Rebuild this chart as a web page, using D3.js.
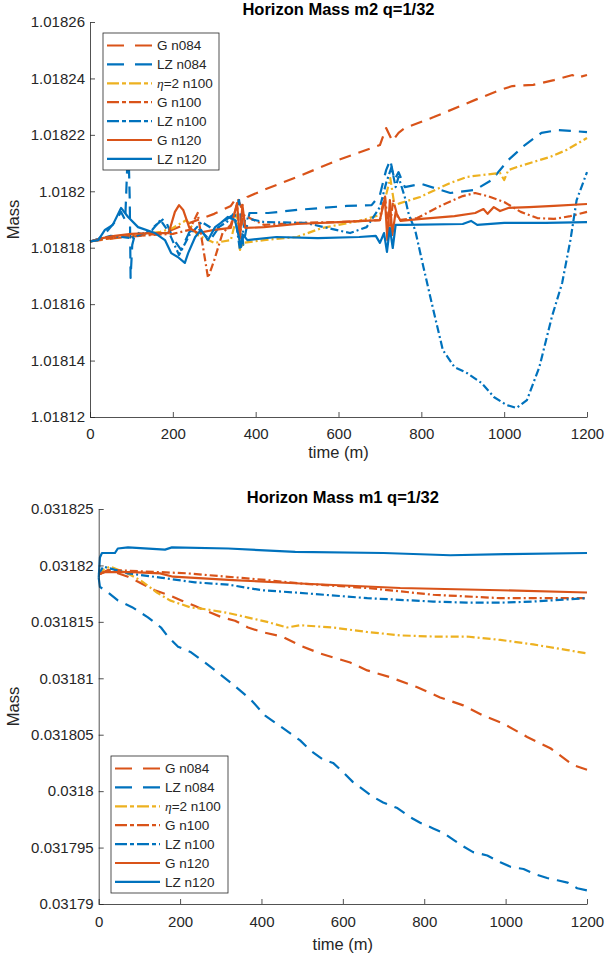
<!DOCTYPE html>
<html>
<head>
<meta charset="utf-8">
<script src="https://cdn.jsdelivr.net/npm/d3@7"></script>
<style>
  body { margin: 0; background: #fff; }
  svg { display: block; }
  text { font-family: "Liberation Sans", Arial, Helvetica, sans-serif; fill: #262626; }
</style>
</head>
<body>
<svg id="fig" width="605" height="958"></svg>
<script>
// ---------- shared ----------
const seriesNames = ["G n084", "LZ n084", "\u03B7=2 n100", "G n100", "LZ n100", "G n120", "LZ n120"];
const timeTicks = [0, 200, 400, 600, 800, 1000, 1200];
const m2Ticks = [1.01812, 1.01814, 1.01816, 1.01818, 1.0182, 1.01822, 1.01824, 1.01826];
const m1Ticks = [0.03179, 0.031795, 0.0318, 0.031805, 0.03181, 0.031815, 0.03182, 0.031825];

// ---------- horizon mass m2 ----------
const m2_G084_t = [0,60,120,180,220,260,300,340,355,365,380,420,500,600,700,715,730,745,760,830,930,990,1020,1070,1120,1165,1175,1200];
const m2_G084_v = [1.0181822,1.0181834,1.0181842,1.0181852,1.0181877,1.0181898,1.0181920,1.0181948,1.0181980,1.0181944,1.0181980,1.0182005,1.0182051,1.0182111,1.0182164,1.0182224,1.0182178,1.0182207,1.0182224,1.0182263,1.0182324,1.0182359,1.0182373,1.0182377,1.0182394,1.0182412,1.0182402,1.0182412];

const m2_LZ084_t = [0,20,40,60,75,85,90,93,96,98,102,110,130,160,180,200,220,240,260,290,320,345,360,370,385,430,500,560,620,680,700,715,725,735,745,760,800,870,930,970,1010,1050,1090,1130,1160,1200];
const m2_LZ084_v = [1.0181822,1.0181831,1.0181856,1.0181891,1.0181927,1.0181898,1.0182093,1.0182146,1.0181969,1.0181693,1.0181810,1.0181856,1.0181845,1.0181881,1.0181905,1.0181834,1.0181792,1.0181856,1.0181870,1.0181827,1.0181891,1.0181916,1.0181969,1.0181810,1.0181923,1.0181923,1.0181934,1.0181941,1.0181948,1.0181951,1.0181987,1.0182075,1.0182111,1.0182040,1.0182068,1.0182015,1.0182026,1.0181994,1.0182005,1.0182040,1.0182111,1.0182164,1.0182207,1.0182217,1.0182214,1.0182210];

const m2_Eta100_t = [0,50,100,170,200,233,260,300,340,355,362,370,420,500,560,650,700,715,725,735,749,797,869,910,949,990,1000,1010,1031,1111,1150,1200];
const m2_Eta100_v = [1.0181822,1.0181834,1.0181842,1.0181856,1.0181870,1.0181898,1.0181845,1.0181817,1.0181827,1.0181916,1.0181792,1.0181817,1.0181827,1.0181838,1.0181870,1.0181895,1.0181916,1.0181987,1.0182047,1.0181951,1.0181958,1.0181980,1.0182029,1.0182051,1.0182058,1.0182065,1.0182040,1.0182075,1.0182086,1.0182122,1.0182146,1.0182189];

const m2_G100_t = [0,50,100,150,200,240,260,272,285,300,320,340,355,362,370,420,500,600,700,712,722,732,745,790,850,900,930,960,1000,1040,1080,1120,1160,1200];
const m2_G100_v = [1.0181822,1.0181834,1.0181842,1.0181845,1.0181849,1.0181863,1.0181923,1.0181810,1.0181693,1.0181756,1.0181852,1.0181881,1.0181951,1.0181845,1.0181916,1.0181881,1.0181888,1.0181891,1.0181898,1.0181987,1.0181845,1.0181969,1.0181898,1.0181905,1.0181951,1.0181983,1.0181994,1.0181983,1.0181962,1.0181927,1.0181905,1.0181902,1.0181912,1.0181927];

const m2_LZ100_t = [0,50,100,150,170,190,215,240,270,300,330,350,362,375,420,520,628,668,700,715,728,738,745,760,770,785,805,829,852,880,910,945,975,1005,1030,1055,1085,1115,1140,1160,1175,1200];
const m2_LZ100_v = [1.0181822,1.0181842,1.0181834,1.0181863,1.0181898,1.0181856,1.0181774,1.0181845,1.0181891,1.0181863,1.0181891,1.0181916,1.0181792,1.0181905,1.0181891,1.0181888,1.0181852,1.0181873,1.0181944,1.0182029,1.0182086,1.0182015,1.0182051,1.0181980,1.0181916,1.0181863,1.0181732,1.0181579,1.0181437,1.0181377,1.0181356,1.0181321,1.0181271,1.0181243,1.0181232,1.0181260,1.0181377,1.0181554,1.0181675,1.0181827,1.0181969,1.0182068];

const m2_G120_t = [0,30,60,100,150,190,205,215,225,240,260,300,340,355,362,368,375,420,500,600,700,712,718,724,730,738,750,800,880,930,950,960,975,990,1010,1060,1120,1200];
const m2_G120_v = [1.0181822,1.0181834,1.0181842,1.0181849,1.0181852,1.0181852,1.0181927,1.0181951,1.0181934,1.0181870,1.0181852,1.0181863,1.0181870,1.0181958,1.0181834,1.0181951,1.0181870,1.0181873,1.0181884,1.0181891,1.0181898,1.0181976,1.0181827,1.0181969,1.0181845,1.0181927,1.0181895,1.0181902,1.0181912,1.0181923,1.0181937,1.0181920,1.0181944,1.0181930,1.0181941,1.0181944,1.0181948,1.0181955];

const m2_LZ120_t = [0,20,36,55,75,92,116,157,181,196,212,229,237,254,268,285,302,316,333,350,365,370,380,450,550,650,690,700,710,717,724,731,738,760,900,920,935,1000,1100,1200];
const m2_LZ120_v = [1.0181822,1.0181827,1.0181863,1.0181881,1.0181941,1.0181909,1.0181873,1.0181852,1.0181827,1.0181781,1.0181767,1.0181746,1.0181781,1.0181838,1.0181863,1.0181827,1.0181873,1.0181888,1.0181909,1.0181898,1.0181803,1.0181845,1.0181827,1.0181838,1.0181834,1.0181838,1.0181842,1.0181817,1.0181852,1.0181785,1.0181870,1.0181799,1.0181881,1.0181881,1.0181884,1.0181895,1.0181881,1.0181888,1.0181888,1.0181891];

// ---------- horizon mass m1 ----------
const m1_G084_t = [0,23,72,138,170,203,237,269,303,335,367,401,451,495,544,618,660,716,783,839,896,945,994,1053,1110,1166,1200];
const m1_G084_v = [0.0318192,0.0318196,0.0318190,0.0318178,0.0318174,0.0318169,0.0318164,0.0318159,0.0318154,0.0318151,0.0318145,0.0318141,0.0318137,0.0318129,0.0318122,0.0318114,0.0318107,0.0318101,0.0318092,0.0318083,0.0318076,0.0318067,0.0318060,0.0318048,0.0318038,0.0318023,0.0318019];

const m1_LZ084_t = [0,3,23,47,82,121,153,170,195,227,261,325,374,409,495,520,551,576,600,625,674,699,734,765,790,822,847,871,896,920,955,987,1012,1044,1068,1102,1127,1152,1176,1200];
const m1_LZ084_v = [0.0318189,0.0318181,0.0318176,0.0318169,0.0318163,0.0318154,0.0318145,0.0318137,0.0318128,0.0318123,0.0318114,0.0318096,0.0318081,0.0318067,0.0318045,0.0318036,0.0318028,0.0318025,0.0318017,0.0318008,0.0317995,0.0317990,0.0317985,0.0317977,0.0317972,0.0317967,0.0317963,0.0317957,0.0317951,0.0317946,0.0317943,0.0317937,0.0317933,0.0317931,0.0317927,0.0317923,0.0317921,0.0317919,0.0317914,0.0317912];

const m1_Eta100_t = [0,11,28,70,102,143,175,224,266,316,365,414,463,495,576,660,741,822,905,987,1068,1152,1200];
const m1_Eta100_v = [0.0318192,0.0318196,0.0318199,0.0318193,0.0318187,0.0318176,0.0318169,0.0318163,0.0318161,0.0318158,0.0318154,0.0318150,0.0318145,0.0318147,0.0318145,0.0318141,0.0318138,0.0318137,0.0318137,0.0318134,0.0318130,0.0318125,0.0318122];

const m1_G100_t = [0,28,217,414,495,660,822,987,1200];
const m1_G100_v = [0.0318192,0.0318196,0.0318193,0.0318187,0.0318184,0.0318180,0.0318174,0.0318171,0.0318171];

const m1_LZ100_t = [0,11,72,156,237,318,401,483,660,822,905,987,1068,1200];
const m1_LZ100_v = [0.0318192,0.0318199,0.0318193,0.0318189,0.0318185,0.0318183,0.0318178,0.0318176,0.0318171,0.0318168,0.0318167,0.0318167,0.0318168,0.0318171];

const m1_G120_t = [0,11,84,151,183,330,495,741,987,1200];
const m1_G120_v = [0.0318192,0.0318194,0.0318194,0.0318193,0.0318190,0.0318187,0.0318184,0.0318180,0.0318178,0.0318176];

const m1_LZ120_t = [0,3,8,40,47,72,163,180,318,483,700,864,1000,1200];
const m1_LZ120_v = [0.0318189,0.0318207,0.0318211,0.0318211,0.0318215,0.0318216,0.0318214,0.0318216,0.0318215,0.0318212,0.0318211,0.0318209,0.0318210,0.0318211];

// ---------- line styles (MATLAB default colour order) ----------
const ORANGE = "#D95319", BLUE = "#0072BD", YELLOW = "#EDB120";
const DASH = "12,8", DASHDOT = "8,3,2,3";
const styles = [
  { color: ORANGE, dash: DASH,    legendDash: "17,11" },
  { color: BLUE,   dash: DASH,    legendDash: "17,11" },
  { color: YELLOW, dash: DASHDOT, legendDash: "12,3,4,3" },
  { color: ORANGE, dash: DASHDOT, legendDash: "12,3,4,3" },
  { color: BLUE,   dash: DASHDOT, legendDash: "12,3,4,3" },
  { color: ORANGE, dash: null,    legendDash: null },
  { color: BLUE,   dash: null,    legendDash: null }
];

const svg = d3.select("#fig");
const AXIS_COLOR = "#262626";

function drawPanel(p) {
  const g = svg.append("g");
  const x = d3.scaleLinear().domain([0, 1200]).range([p.left, p.right]);
  const y = d3.scaleLinear().domain([p.yTicks[0], p.yTicks[p.yTicks.length - 1]]).range([p.bottom, p.top]);

  const line = d3.line().x(d => x(d[0])).y(d => y(d[1]));

  // series
  p.series.forEach((s, i) => {
    const st = styles[i];
    g.append("path")
      .datum(d3.zip(s[0], s[1]))
      .attr("d", line)
      .attr("fill", "none")
      .attr("stroke", st.color)
      .attr("stroke-width", 2.2)
      .attr("stroke-linejoin", "round")
      .attr("stroke-dasharray", st.dash);
  });

  // axes (ticks pointing inward, no box)
  const xAxis = d3.axisBottom(x).tickValues(timeTicks).tickSize(-5).tickSizeOuter(0)
    .tickPadding(p.xPad).tickFormat(d3.format("d"));
  const yAxis = d3.axisLeft(y).tickValues(p.yTicks).tickSize(-5).tickSizeOuter(0)
    .tickPadding(5).tickFormat(p.fmt);

  const gx = g.append("g").attr("transform", `translate(0,${p.bottom})`).call(xAxis);
  const gy = g.append("g").attr("transform", `translate(${p.left},0)`).call(yAxis);
  [gx, gy].forEach(a => {
    a.attr("font-size", 15).attr("font-family", null).style("color", AXIS_COLOR);
    a.selectAll("path, line").attr("stroke-width", 0.8);
  });

  // title and labels
  const cx = (p.left + p.right) / 2;
  g.append("text").attr("x", cx).attr("y", p.titleY)
    .attr("text-anchor", "middle").attr("font-size", 16.5).attr("font-weight", "bold")
    .style("fill", "#000").text(p.title);
  g.append("text").attr("x", cx).attr("y", p.xLabelY)
    .attr("text-anchor", "middle").attr("font-size", 16.5).text("time (m)");
  g.append("text")
    .attr("transform", `translate(19,${(p.top + p.bottom) / 2}) rotate(-90)`)
    .attr("text-anchor", "middle").attr("font-size", 16.5).text("Mass");

  // legend
  const L = p.legend;
  const lg = g.append("g");
  lg.append("rect").attr("x", L.x).attr("y", L.y).attr("width", L.w).attr("height", L.h)
    .attr("fill", "#fff").attr("stroke", AXIS_COLOR).attr("stroke-width", 0.8);
  seriesNames.forEach((name, i) => {
    const st = styles[i];
    const ry = L.y + 12.5 + i * 18.9;
    lg.append("line")
      .attr("x1", L.x + 4).attr("x2", L.x + 49).attr("y1", ry).attr("y2", ry)
      .attr("stroke", st.color).attr("stroke-width", 2.2)
      .attr("stroke-dasharray", st.legendDash);
    const t = lg.append("text").attr("x", L.x + 54).attr("y", ry + 4.8).attr("font-size", 13.5);
    if (name.startsWith("\u03B7")) {
      t.append("tspan").attr("font-style", "italic")
        .attr("font-family", "'Liberation Serif', 'DejaVu Serif', serif").text("\u03B7");
      t.append("tspan").text(name.slice(1));
    } else {
      t.text(name);
    }
  });
}

drawPanel({
  title: "Horizon Mass m2 q=1/32",
  left: 90, right: 587, top: 22, bottom: 417,
  yTicks: m2Ticks, fmt: d => String(+d.toFixed(5)),
  xPad: 11, titleY: 15, xLabelY: 458,
  series: [[m2_G084_t, m2_G084_v], [m2_LZ084_t, m2_LZ084_v], [m2_Eta100_t, m2_Eta100_v],
           [m2_G100_t, m2_G100_v], [m2_LZ100_t, m2_LZ100_v], [m2_G120_t, m2_G120_v], [m2_LZ120_t, m2_LZ120_v]],
  legend: { x: 103, y: 33, w: 116, h: 137 }
});

drawPanel({
  title: "Horizon Mass m1 q=1/32",
  left: 98.7, right: 587, top: 509, bottom: 904,
  yTicks: m1Ticks, fmt: d => String(+d.toFixed(6)),
  xPad: 12.5, titleY: 503, xLabelY: 950,
  series: [[m1_G084_t, m1_G084_v], [m1_LZ084_t, m1_LZ084_v], [m1_Eta100_t, m1_Eta100_v],
           [m1_G100_t, m1_G100_v], [m1_LZ100_t, m1_LZ100_v], [m1_G120_t, m1_G120_v], [m1_LZ120_t, m1_LZ120_v]],
  legend: { x: 111, y: 756, w: 117, h: 137 }
});
</script>
</body>
</html>
